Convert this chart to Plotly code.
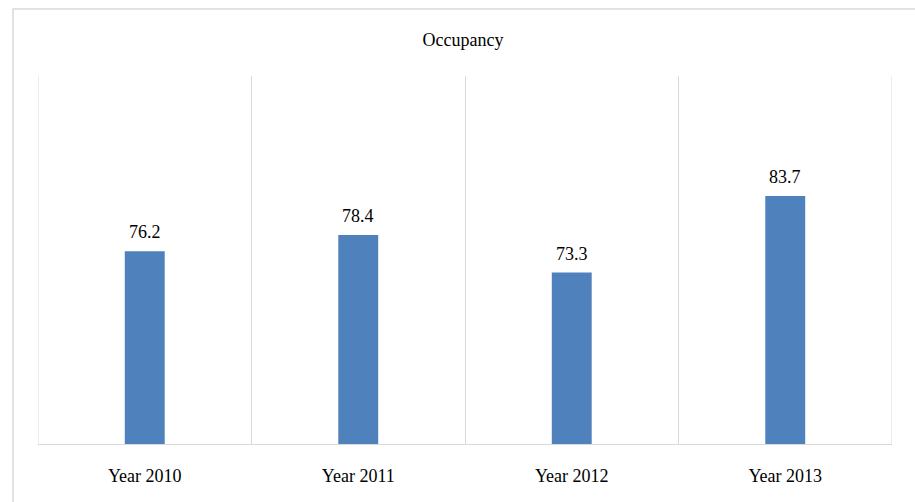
import plotly.graph_objects as go

categories = ["Year 2010", "Year 2011", "Year 2012", "Year 2013"]
occupancy = [76.2, 78.4, 73.3, 83.7]
labels = ["76.2", "78.4", "73.3", "83.7"]

W, H = 915, 502
ml, mr, mt, mb = 37.5, 23, 76, 58
pw = W - ml - mr
ph = H - mt - mb

fig = go.Figure()
fig.add_trace(go.Bar(
    x=categories, y=occupancy, width=0.187,
    marker=dict(color="#4F81BD", line=dict(width=0)),
    hoverinfo="x+y",
))

for c, v, t in zip(categories, occupancy, labels):
    fig.add_annotation(x=c, y=v, text=t, showarrow=False, yanchor="bottom",
                       yshift=7, font=dict(family="Liberation Serif", size=18, color="#000000"))

# plot-area edge lines (left and right category boundaries)
for xb in (-0.5, len(categories) - 0.5):
    fig.add_shape(type="line", xref="x", yref="paper", x0=xb, x1=xb, y0=0, y1=1,
                  line=dict(color="#D9D9D9", width=1), layer="below")

# outer chart frame
fig.add_shape(type="rect", xref="paper", yref="paper",
              x0=(12.5 - ml) / pw, x1=1.2, y0=-0.3, y1=(H - mb - 9) / ph,
              line=dict(color="#D9D9D9", width=1.5), fillcolor="rgba(0,0,0,0)", layer="below")

fig.update_layout(
    width=W, height=H,
    margin=dict(l=ml, r=mr, t=mt, b=mb),
    paper_bgcolor="white", plot_bgcolor="white",
    showlegend=False,
    title=dict(text="Occupancy", x=463 / W, xanchor="center", y=1 - 40 / H, yanchor="middle",
               font=dict(family="Liberation Serif", size=18, color="#000000")),
    xaxis=dict(
        range=[-0.5, len(categories) - 0.5], tickson="boundaries", showgrid=True, gridcolor="#D9D9D9", gridwidth=1,
        showline=True, linecolor="#D9D9D9", linewidth=1, ticks="", ticklabelstandoff=15,
        tickfont=dict(family="Liberation Serif", size=18, color="#000000"), zeroline=False,
    ),
    yaxis=dict(range=[50, 100], visible=False, showgrid=False, zeroline=False),
)

fig.write_html("out.html")
